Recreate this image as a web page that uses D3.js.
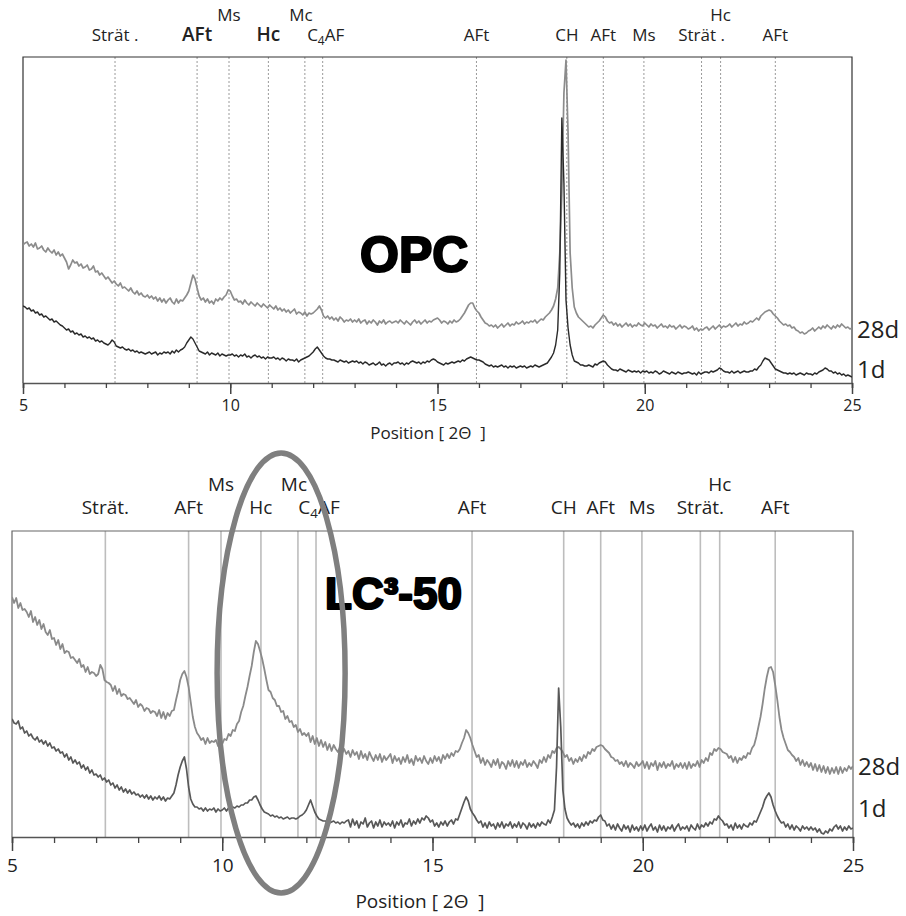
<!DOCTYPE html>
<html>
<head>
<meta charset="utf-8">
<script src="https://cdn.jsdelivr.net/npm/d3@7"></script>
<style>
  html, body { margin: 0; padding: 0; background: #fff; }
  svg { display: block; }
  text { font-family: "Open Sans", "DejaVu Sans", sans-serif; fill: #222; }
</style>
</head>
<body>
<svg id="chart" width="906" height="916"></svg>
<script>
// XRD scan grid: 5–25 °2θ in 0.05° steps
const scanStart = 5, scanStep = 0.05, scanCount = 401;
const twoTheta = d3.range(scanCount).map(i => +(scanStart + i * scanStep).toFixed(2));

// OPC paste, intensities (a.u.), one row per degree
const opc28d = [
  138,140,141,137,139,136,140,134,135,137,133,131,135,132,130,133,128,131,127,129,
  125,121,114,118,123,120,121,117,119,115,116,118,113,114,117,111,112,108,110,107,
  104,106,103,100,102,99,97,100,95,96,94,92,95,91,89,92,88,90,87,86,
  88,85,87,84,86,82,85,81,84,80,83,85,81,79,84,80,83,82,85,88,
  92,100,108,104,95,87,83,85,81,84,80,82,79,84,82,85,83,86,88,93,
  92,87,83,84,81,82,79,83,80,78,81,79,77,80,78,76,79,77,75,78,
  76,74,77,73,75,72,74,71,73,70,72,74,69,71,70,68,71,67,70,69,
  70,72,74,77,73,67,65,67,64,66,63,65,62,66,64,61,63,62,64,61,
  63,61,64,60,62,63,59,62,60,63,61,58,62,60,63,59,61,62,60,61,
  62,60,63,61,59,62,60,58,61,63,60,62,59,61,63,60,62,61,63,64,
  65,63,60,62,61,59,62,60,63,61,62,64,67,70,74,78,80,80,75,72,
  70,66,63,60,59,57,58,56,58,55,57,59,56,58,60,57,59,58,61,59,
  60,62,59,61,60,62,61,63,60,62,64,63,66,68,70,73,77,84,95,130,
  190,290,323,250,130,95,76,70,66,64,62,60,58,56,57,55,58,60,62,65,
  68,66,62,60,61,58,60,57,59,56,58,60,57,59,56,58,57,60,58,57,
  60,58,56,59,57,58,55,57,59,56,57,55,58,56,57,54,56,58,55,57,
  56,54,55,57,53,55,52,54,53,55,56,53,55,57,54,56,58,55,57,56,
  57,59,56,58,60,57,59,58,61,59,60,62,61,63,65,63,67,69,71,72,
  73,72,69,67,65,62,60,58,59,57,58,55,56,53,52,50,51,49,50,52,
  53,55,52,54,56,54,57,55,58,56,54,57,55,58,56,59,57,55,56,54,
  55
];
const opc1d = [
  77,76,74,75,72,73,70,71,68,69,66,67,65,63,64,61,62,60,58,57,
  55,53,54,51,52,49,50,48,49,46,47,45,46,44,45,42,43,41,42,40,
  39,38,40,43,41,37,36,35,36,34,33,34,32,33,31,32,30,31,30,29,
  30,31,29,30,31,28,30,29,31,30,31,29,32,30,33,31,33,34,36,40,
  43,46,44,40,36,32,31,30,29,31,28,30,29,28,30,27,29,28,27,28,
  28,29,27,28,26,28,27,29,26,27,25,27,28,26,27,25,26,24,26,25,
  25,26,24,25,23,25,24,22,24,23,23,22,24,21,23,24,25,26,27,29,
  31,34,36,33,30,27,25,24,24,23,23,22,21,23,22,21,22,20,21,22,
  21,22,20,21,19,21,20,18,19,20,18,19,21,18,19,17,19,20,18,20,
  20,21,19,20,18,20,19,21,22,21,20,21,19,21,20,22,21,23,24,23,
  21,20,19,18,20,19,20,21,20,21,22,21,23,22,24,25,26,25,24,23,
  23,22,21,19,18,17,18,16,17,16,17,18,16,17,15,17,16,17,15,16,
  17,16,17,15,16,17,16,18,17,16,17,18,19,20,23,26,30,38,53,110,
  265,200,83,55,38,28,22,21,20,18,18,17,17,18,17,16,19,18,20,21,
  22,21,18,16,14,13,13,12,14,13,12,11,13,12,11,12,11,12,10,12,
  11,12,10,11,10,12,11,9,10,12,11,10,9,11,10,9,11,10,9,10,
  10,11,10,9,10,8,11,9,10,11,11,10,12,11,12,13,15,14,12,11,
  11,10,12,10,11,12,10,11,12,11,11,12,12,14,13,16,18,22,25,24,
  23,20,17,14,13,12,11,10,10,9,10,9,10,8,9,10,9,8,10,9,
  9,8,10,9,11,12,13,15,14,12,12,10,11,9,10,8,9,7,8,7,
  6
];

// LC3-50 paste, intensities (a.u.), one row per degree
const lc28d = [
  240,234,239,229,234,227,228,225,220,226,215,220,212,217,208,213,205,202,207,198,
  199,192,197,188,193,184,186,185,179,180,177,174,178,170,172,165,170,163,165,164,
  161,163,172,168,157,155,154,152,146,151,143,148,141,143,142,138,139,136,133,137,
  130,133,131,126,129,128,124,126,125,121,127,119,125,118,124,121,126,127,137,146,
  157,163,166,160,150,135,120,110,104,101,97,99,93,99,94,96,95,97,91,97,
  93,98,97,103,101,107,106,113,116,125,131,141,150,161,171,185,196,193,186,178,
  168,157,147,145,139,137,131,131,125,126,118,121,115,116,110,112,105,108,102,104,
  101,104,95,101,93,99,91,97,90,95,87,93,86,92,88,85,90,84,88,83,
  86,80,87,82,85,78,86,79,83,77,85,80,76,82,77,83,75,81,77,80,
  83,74,81,76,79,73,80,75,82,74,78,72,81,76,79,74,81,76,73,79,
  74,81,76,80,74,82,78,83,79,84,81,86,85,88,94,99,107,104,99,92,
  86,80,82,74,79,72,77,74,70,77,72,78,69,75,73,68,76,71,77,70,
  76,69,75,72,77,70,74,71,76,73,69,77,74,80,75,82,79,86,84,89,
  90,88,85,80,82,76,79,73,78,75,80,76,82,79,85,83,88,86,90,91,
  92,91,88,86,84,80,79,76,77,73,75,71,76,70,74,72,69,75,71,73,
  76,69,75,68,74,71,76,67,74,70,75,69,73,71,76,68,73,70,74,69,
  74,68,75,69,73,71,76,70,77,74,79,76,84,82,88,86,89,88,85,84,
  83,79,81,75,80,74,79,77,81,79,84,83,89,92,100,110,120,133,148,160,
  169,170,165,152,137,120,107,99,93,87,85,82,80,76,79,72,77,71,75,70,
  74,67,73,66,72,65,71,64,70,63,69,64,70,63,70,64,69,66,71,68,
  71
];
const lc1d = [
  118,114,113,116,108,110,104,106,101,103,99,97,100,95,97,93,96,91,94,89,
  90,86,88,84,85,80,83,77,80,74,77,73,75,69,72,67,70,64,67,62,
  63,60,62,57,59,55,57,52,54,49,52,47,50,45,48,44,47,43,45,42,
  43,40,42,39,42,38,41,37,40,38,41,37,40,36,39,38,41,44,52,62,
  70,76,80,68,50,38,33,30,30,28,29,26,29,26,28,27,29,25,28,26,
  27,29,26,29,28,30,29,31,30,32,32,34,34,37,37,40,41,37,32,28,
  25,24,23,21,22,20,21,19,20,18,19,20,18,19,19,18,19,21,22,24,
  27,32,37,31,25,21,18,17,16,16,15,14,15,16,14,15,13,15,14,16,
  17,10,18,12,16,9,15,13,19,10,14,16,9,15,11,17,10,15,12,14,
  11,16,9,15,12,17,10,14,13,18,11,16,13,18,14,19,17,21,19,15,
  17,11,14,10,15,12,16,11,15,17,13,18,17,23,29,35,40,36,28,24,
  21,17,14,16,10,14,9,15,11,13,8,14,10,15,9,13,11,15,9,13,
  10,15,9,14,12,8,14,10,13,9,14,11,15,13,12,17,14,20,27,70,
  149,110,47,28,19,15,12,14,10,13,9,14,11,15,12,16,14,17,16,20,
  22,17,16,11,13,8,12,7,13,9,6,12,8,11,5,12,7,10,6,11,
  7,12,6,10,13,7,10,5,12,7,11,6,10,8,12,6,10,13,7,10,
  8,11,6,12,9,7,13,8,12,10,14,11,15,13,18,17,21,18,16,12,
  13,9,12,7,14,9,12,8,13,11,10,14,12,16,15,20,25,30,37,41,
  44,40,32,26,21,17,14,15,10,13,8,12,7,11,9,6,11,8,10,7,
  10,7,9,5,8,4,3,6,4,8,6,10,12,8,11,6,10,7,11,8,
  9
];

// Reference phase positions (°2θ) and their names
const phaseNames = ["Strät .", "AFt", "Ms", "Hc", "Mc", "C4AF", "AFt", "CH", "AFt", "Ms", "Strät .", "Hc", "AFt"];
const phasePos   = [7.22, 9.2, 9.97, 10.92, 11.8, 12.23, 15.94, 18.12, 19.0, 19.98, 21.37, 21.83, 23.15];
const phaseRow   = [0, 0, 1, 0, 1, 0, 0, 0, 0, 0, 0, 1, 0];

const majorTicks = [5, 10, 15, 20, 25];
const minorTicks = d3.range(5, 26);
const seriesNames = ["28d", "1d"];

// horizontal label nudges (px) for the stacked Mc / C4AF pair
const labelNudge = { 4: -4, 5: 3 };

const svg = d3.select("#chart");

function drawPanel(cfg) {
  const x = d3.scaleLinear().domain([5, 25]).range([cfg.left, cfg.right]);
  const y = d3.scaleLinear().domain([0, cfg.yMax]).range([cfg.bottom, cfg.top]);
  const g = svg.append("g");

  const clipId = "clip-" + cfg.id;
  g.append("clipPath").attr("id", clipId).append("rect")
    .attr("x", cfg.left).attr("y", cfg.top)
    .attr("width", cfg.right - cfg.left).attr("height", cfg.bottom - cfg.top);

  // phase reference lines
  g.append("g").selectAll("line").data(phasePos).join("line")
    .attr("x1", d => x(d)).attr("x2", d => x(d))
    .attr("y1", cfg.top).attr("y2", cfg.bottom)
    .attr("stroke", cfg.refColor).attr("stroke-width", cfg.refWidth)
    .attr("stroke-dasharray", cfg.refDash);

  // frame (top, left, right)
  g.append("path")
    .attr("d", `M${cfg.left},${cfg.bottom}V${cfg.top}H${cfg.right}V${cfg.bottom}`)
    .attr("fill", "none").attr("stroke", cfg.frameColor).attr("stroke-width", 1.2);

  // diffraction patterns
  const line = d3.line().x((d, i) => x(twoTheta[i])).y(d => y(d));
  const curves = g.append("g").attr("clip-path", `url(#${clipId})`);
  cfg.series.forEach(s => {
    curves.append("path").datum(s.values)
      .attr("d", line).attr("fill", "none")
      .attr("stroke", s.color).attr("stroke-width", s.width)
      .attr("stroke-linejoin", "round");
  });

  // x axis: minor and major ticks
  g.append("g").attr("transform", `translate(0,${cfg.bottom})`)
    .call(d3.axisBottom(x).tickValues(minorTicks).tickSize(cfg.minorLen).tickFormat(""))
    .call(a => a.selectAll("line").attr("stroke", "#444").attr("stroke-width", 1.3))
    .call(a => a.select(".domain").attr("stroke", "#555").attr("stroke-width", 1.5));
  g.append("g").attr("transform", `translate(0,${cfg.bottom})`)
    .call(d3.axisBottom(x).tickValues(majorTicks).tickSize(cfg.majorLen).tickPadding(cfg.tickPad).tickFormat(d3.format("d")))
    .call(a => a.select(".domain").remove())
    .call(a => a.selectAll("line").attr("stroke", "#444").attr("stroke-width", 1.5))
    .call(a => a.selectAll("text").attr("font-size", cfg.tickFont + "px")
      .style("font-family", "'Open Sans', sans-serif").attr("fill", "#222"));

  g.append("text").attr("x", cfg.titleX).attr("y", cfg.titleY)
    .attr("text-anchor", "middle").attr("font-size", cfg.titleFont + "px")
    .attr("xml:space", "preserve")
    .text("Position [ 2Θ  ]");

  // phase labels
  const labels = g.append("g");
  phaseNames.forEach((name, i) => {
    const big = cfg.bigLabels.includes(i);
    const size = big ? cfg.bigFont : cfg.labelFont;
    const t = labels.append("text")
      .attr("x", x(phasePos[i]) + (labelNudge[i] || 0))
      .attr("y", phaseRow[i] ? cfg.row1Y : cfg.row0Y)
      .attr("text-anchor", "middle")
      .attr("font-size", size + "px")
      .attr("font-weight", big ? 600 : 400);
    if (name === "C4AF") {
      t.append("tspan").text("C");
      t.append("tspan").attr("dy", 4).attr("font-size", (size * 0.7) + "px").text("4");
      t.append("tspan").attr("dy", -4).text("AF");
    } else {
      t.text(cfg.id === "lc" ? name.replace(" .", ".") : name);
    }
  });

  // series names at the right edge
  cfg.series.forEach((s, i) => {
    g.append("text").attr("x", cfg.right + 5).attr("y", cfg.seriesLabelY[i])
      .attr("font-size", "24px").text(seriesNames[i]);
  });

  // sample name
  g.append("text").attr("x", cfg.nameX).attr("y", cfg.nameY)
    .style("font-family", "'Liberation Sans', Arial, sans-serif")
    .attr("font-weight", 700).attr("font-size", cfg.nameFont + "px")
    .style("fill", "#000").attr("stroke", "#000").attr("stroke-width", 2.2)
    .attr("stroke-linejoin", "round")
    .text(cfg.name);

  return x;
}

drawPanel({
  id: "opc", left: 23, right: 852, top: 57, bottom: 383, yMax: 326,
  refColor: "#9a9a9a", refWidth: 1, refDash: "2,2", frameColor: "#333",
  series: [
    { values: opc28d, color: "#8c8c8c", width: 1.7 },
    { values: opc1d, color: "#2a2a2a", width: 1.4 }
  ],
  minorLen: 5, majorLen: 11, tickPad: 6, tickFont: 16,
  titleX: 428, titleY: 439, titleFont: 17,
  row0Y: 41, row1Y: 21, labelFont: 17, bigFont: 19, bigLabels: [1, 3],
  seriesLabelY: [338, 378],
  name: "OPC", nameX: 360, nameY: 272, nameFont: 50
});

const x2 = drawPanel({
  id: "lc", left: 12, right: 853, top: 531, bottom: 837, yMax: 306,
  refColor: "#bdbdbd", refWidth: 1.6, refDash: null, frameColor: "#666",
  series: [
    { values: lc28d, color: "#8a8a8a", width: 1.8 },
    { values: lc1d, color: "#585858", width: 1.7 }
  ],
  minorLen: 6, majorLen: 14, tickPad: 8, tickFont: 19,
  titleX: 420, titleY: 908, titleFont: 19,
  row0Y: 514, row1Y: 491, labelFont: 19, bigFont: 19, bigLabels: [],
  seriesLabelY: [775, 817],
  name: "LC³-50", nameX: 325, nameY: 609, nameFont: 44
});

// highlight around the Hc region of LC3-50
svg.append("ellipse")
  .attr("cx", x2(11.4)).attr("cy", 673)
  .attr("rx", 64).attr("ry", 220)
  .attr("fill", "none").attr("stroke", "#7f7f7f").attr("stroke-width", 5.5);
</script>
</body>
</html>
